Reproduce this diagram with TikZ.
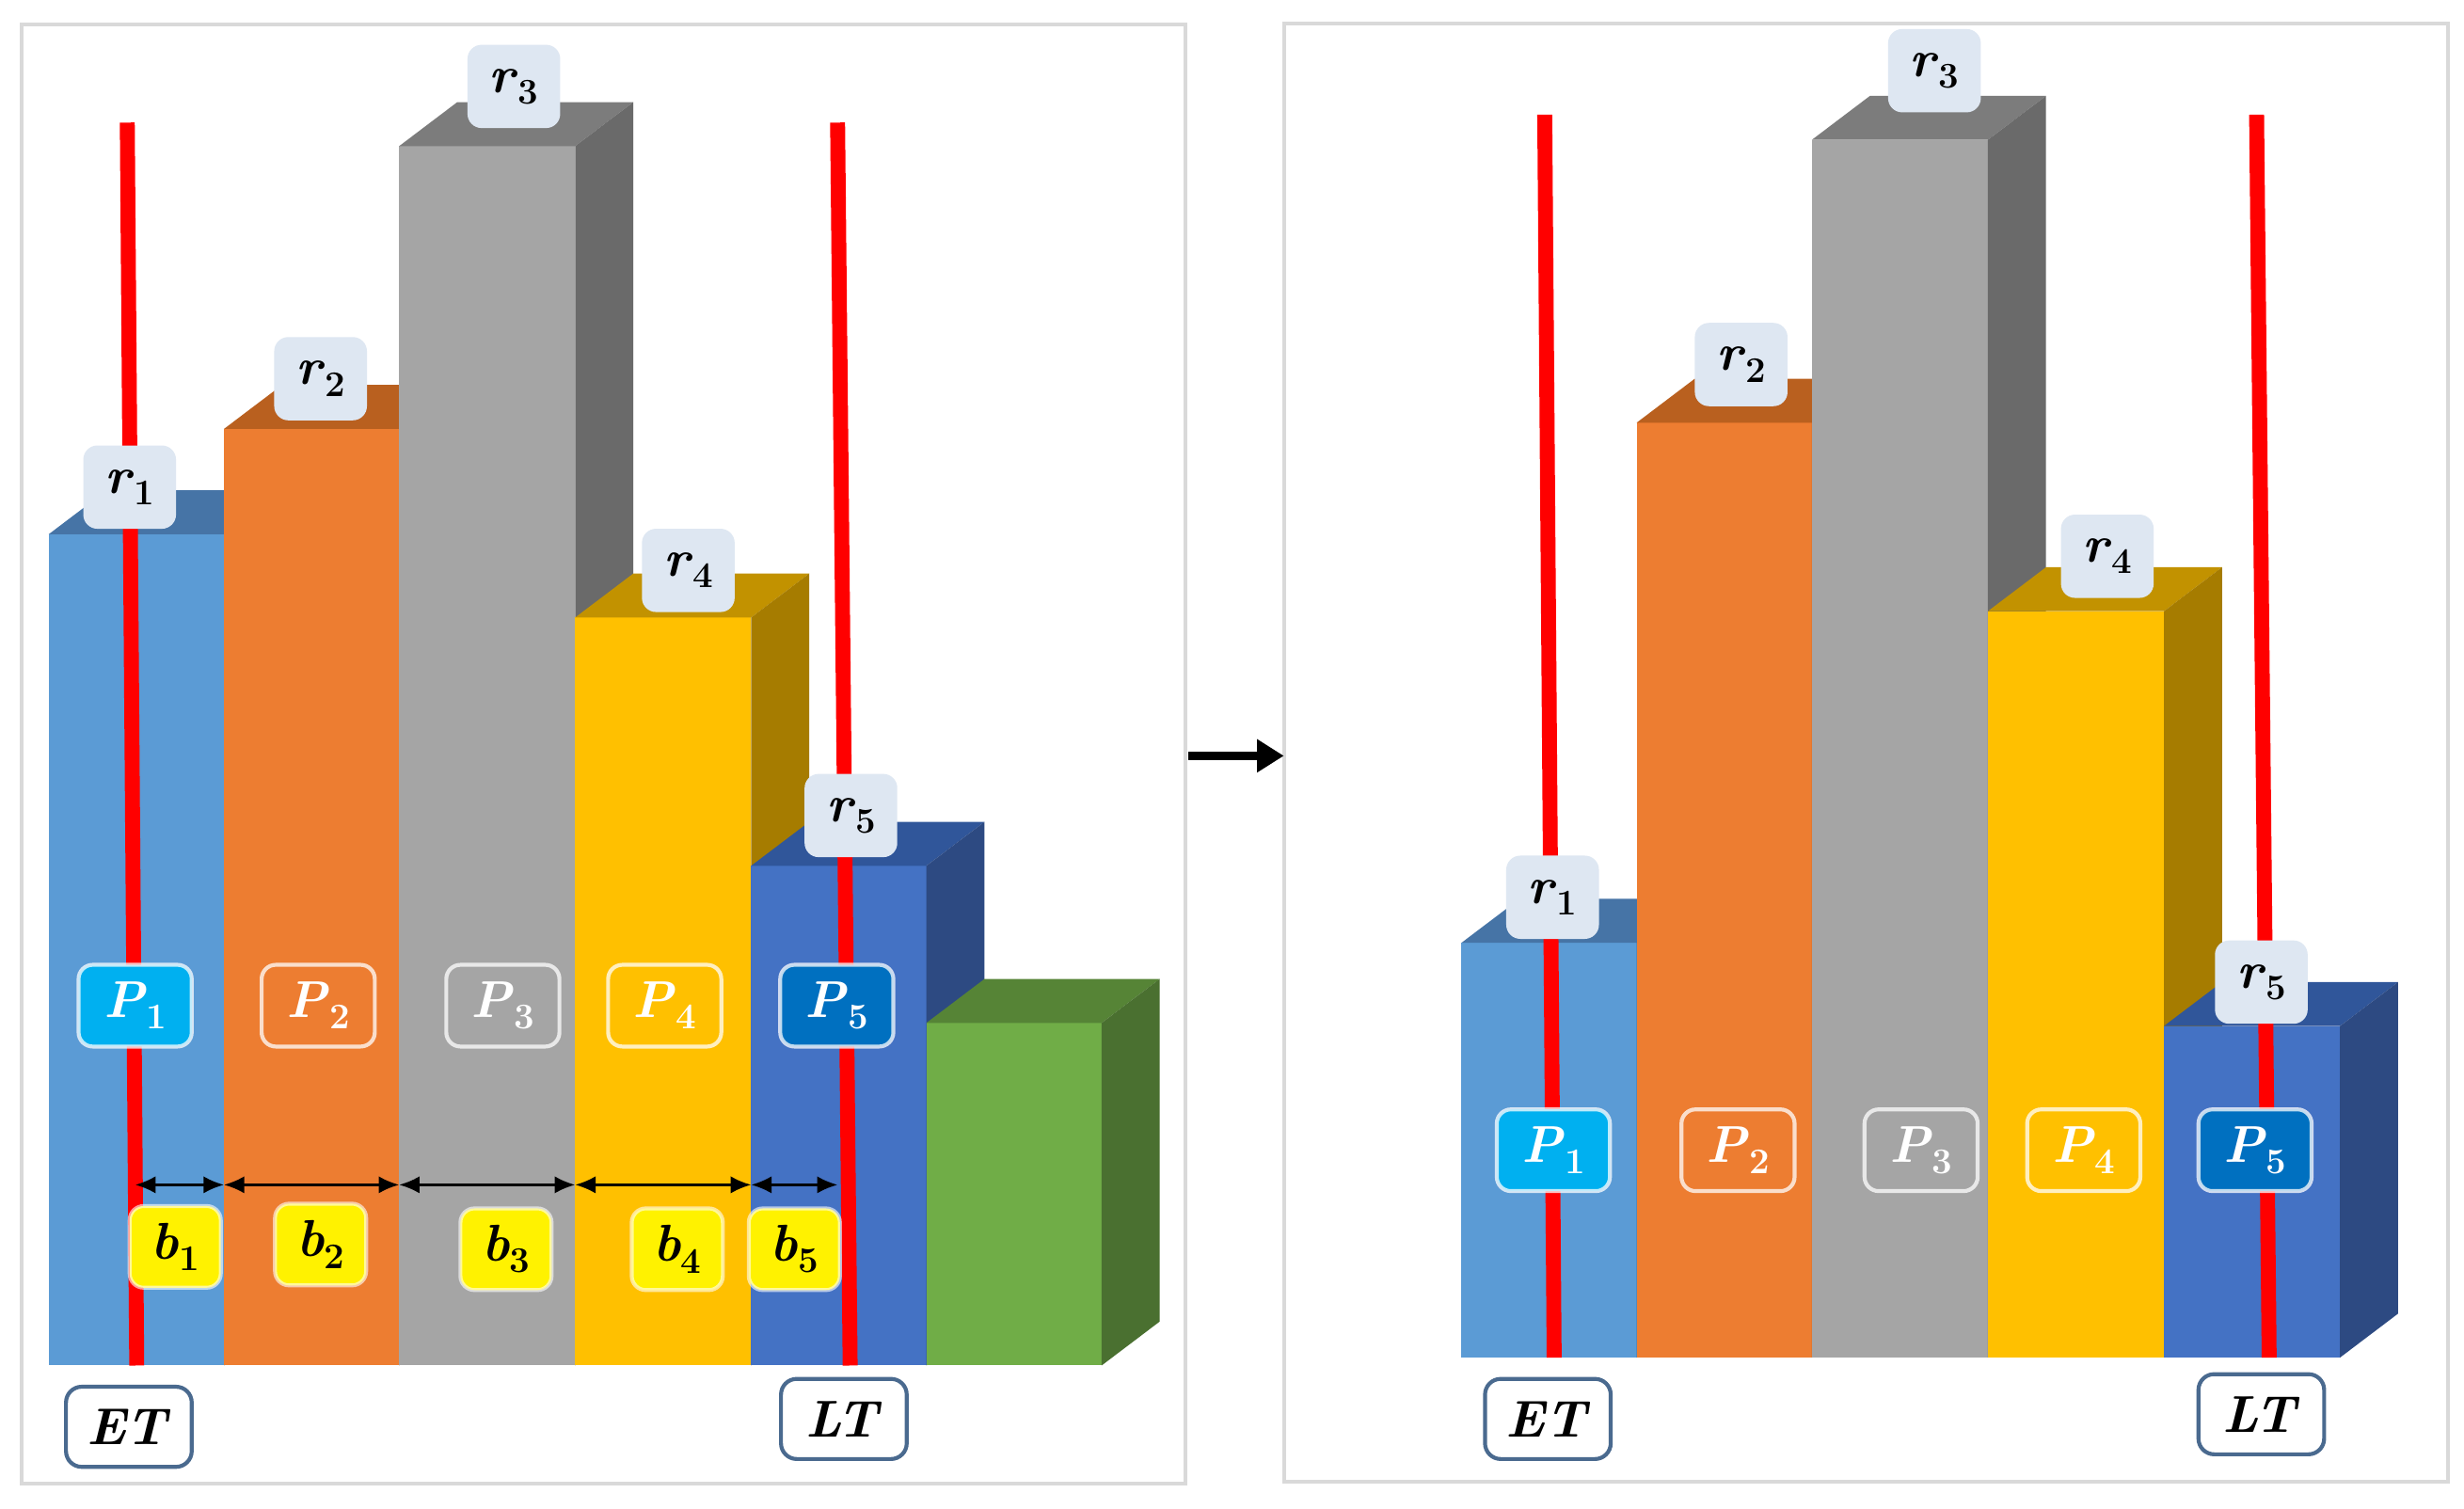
\documentclass[tikz,border=0pt]{standalone}
\usepackage{fontspec}
\usetikzlibrary{arrows.meta}
\definecolor{b1f}{HTML}{5B9BD5}\definecolor{b1t}{HTML}{4674A6}\definecolor{b1s}{HTML}{3F6A98}
\definecolor{b2f}{HTML}{ED7D31}\definecolor{b2t}{HTML}{B9601F}\definecolor{b2s}{HTML}{A5561C}
\definecolor{b3f}{HTML}{A5A5A5}\definecolor{b3t}{HTML}{7C7C7C}\definecolor{b3s}{HTML}{6A6A6A}
\definecolor{b4f}{HTML}{FFC000}\definecolor{b4t}{HTML}{C29200}\definecolor{b4s}{HTML}{A67C00}
\definecolor{b5f}{HTML}{4472C4}\definecolor{b5t}{HTML}{30569A}\definecolor{b5s}{HTML}{2D4A82}
\definecolor{b6f}{HTML}{70AD47}\definecolor{b6t}{HTML}{568436}\definecolor{b6s}{HTML}{4A7030}
\definecolor{rfill}{HTML}{DEE7F2}
\definecolor{pone}{HTML}{00B0F0}
\definecolor{pfive}{HTML}{0070C0}
\definecolor{tborder}{HTML}{4A6A8F}
\definecolor{framegray}{HTML}{D9D9D9}
\newcommand\lblfont{\fontsize{33}{39}\selectfont\bfseries}
\newcommand\lab[2]{\textit{#1}\raisebox{-0.22em}{\fontsize{23}{27}\selectfont\bfseries #2}}
\newcommand\drawbar[7]{%
  \fill[#5] (#1,#2) rectangle ({#1+#4},#3);
  \fill[#6] (#1,#2) -- ({#1+#4},#2) -- ({#1+#4+37},{#2-28}) -- ({#1+37},{#2-28}) -- cycle;
  \fill[#7] ({#1+#4},#2) -- ({#1+#4+37},{#2-28}) -- ({#1+#4+37},{#3-28}) -- ({#1+#4},#3) -- cycle;
}
\tikzset{
  rlab/.style={fill=rfill, rounded corners=9pt, minimum width=59pt, minimum height=53pt, inner sep=0pt, font=\lblfont},
  plab/.style={draw=white, draw opacity=0.75, line width=2.5pt, rounded corners=9pt, minimum width=72pt, minimum height=52pt, inner sep=0pt, text=white, font=\lblfont},
  blab/.style={fill=yellow, draw=white, draw opacity=0.6, line width=2.5pt, rounded corners=9pt, minimum width=58pt, minimum height=52pt, inner sep=0pt, font=\lblfont},
  tlab/.style={fill=white, draw=tborder, line width=2.5pt, rounded corners=10pt, minimum width=80pt, minimum height=51pt, inner sep=0pt, font=\lblfont},
  redline/.style={draw=red, line width=9.5pt},
  dimarrow/.style={line width=1.6pt, {Latex[length=13pt,width=11pt]}-{Latex[length=13pt,width=11pt]}},
  panelframe/.style={draw=framegray, line width=2.5pt},
}
\begin{document}
\begin{tikzpicture}[x=1pt,y=-1pt]
\useasboundingbox (0,0) rectangle (1568,960);
\fill[white] (0,0) rectangle (1568,960);
% frames
\draw[panelframe] (14,15.5) rectangle (754.5,944);
\draw[panelframe] (817,15) rectangle (1558,943);
% ---------- left panel bars ----------
\drawbar{31}{340}{869}{111.5}{b1f}{b1t}{b1s}
\drawbar{142.5}{273}{869}{111.5}{b2f}{b2t}{b2s}
\drawbar{254}{93}{869}{112}{b3f}{b3t}{b3s}
\drawbar{366}{393}{869}{112}{b4f}{b4t}{b4s}
\drawbar{478}{551}{869}{111.5}{b5f}{b5t}{b5s}
\drawbar{589.5}{651}{869}{111.5}{b6f}{b6t}{b6s}
% red lines
\coordinate (LredAtop) at (81,78);
\coordinate (LredAbot) at (87,869);
\coordinate (LredBtop) at (533,78);
\coordinate (LredBbot) at (541,869);
\draw[redline] (LredAtop) -- (LredAbot);
\draw[redline] (LredBtop) -- (LredBbot);
% r labels
\node[rlab] (Lr1) at (82.5,310) {\lab{r}{1}};
\node[rlab] (Lr2) at (204,241) {\lab{r}{2}};
\node[rlab] (Lr3) at (327,55) {\lab{r}{3}};
\node[rlab] (Lr4) at (438,363) {\lab{r}{4}};
\node[rlab] (Lr5) at (541.5,519) {\lab{r}{5}};
% P labels
\node[plab, fill=pone] (LP1) at (86,640) {\lab{P}{1}};
\node[plab] (LP2) at (202.5,640) {\lab{P}{2}};
\node[plab] (LP3) at (320,640) {\lab{P}{3}};
\node[plab] (LP4) at (423,640) {\lab{P}{4}};
\node[plab, fill=pfive] (LP5) at (532.5,640) {\lab{P}{5}};
% dimension arrows
\coordinate (d0) at (86,754);
\coordinate (d1) at (142.5,754);
\coordinate (d2) at (254,754);
\coordinate (d3) at (366,754);
\coordinate (d4) at (478,754);
\coordinate (d5) at (533,754);
\draw[dimarrow] (d0) -- (d1);
\draw[dimarrow] (d1) -- (d2);
\draw[dimarrow] (d2) -- (d3);
\draw[dimarrow] (d3) -- (d4);
\draw[dimarrow] (d4) -- (d5);
% b labels
\node[blab] (b1) at (111.5,793.5) {\lab{b}{1}};
\node[blab] (b2) at (204,792) {\lab{b}{2}};
\node[blab] (b3) at (322,795) {\lab{b}{3}};
\node[blab] (b4) at (431,795) {\lab{b}{4}};
\node[blab] (b5) at (505.5,795) {\lab{b}{5}};
% ET / LT
\node[tlab] (LET) at (82,908) {\textit{ET}};
\node[tlab] (LLT) at (537,903) {\textit{LT}};
% ---------- arrow between panels ----------
\coordinate (arrS) at (756,481);
\coordinate (arrE) at (817,481);
\draw[line width=5pt, -{Triangle[length=17pt,width=20pt]}] (arrS) -- (arrE);
% ---------- right panel bars ----------
\drawbar{930}{600}{864}{111.5}{b1f}{b1t}{b1s}
\drawbar{1041.5}{269}{864}{111.5}{b2f}{b2t}{b2s}
\drawbar{1153}{89}{864}{112}{b3f}{b3t}{b3s}
\drawbar{1265}{389}{864}{112}{b4f}{b4t}{b4s}
\drawbar{1377}{653}{864}{112}{b5f}{b5t}{b5s}
% red lines
\coordinate (RredAtop) at (983,73);
\coordinate (RredAbot) at (989,864);
\coordinate (RredBtop) at (1436,73);
\coordinate (RredBbot) at (1444,864);
\draw[redline] (RredAtop) -- (RredAbot);
\draw[redline] (RredBtop) -- (RredBbot);
% r labels
\node[rlab] (Rr1) at (988,571) {\lab{r}{1}};
\node[rlab] (Rr2) at (1108,232) {\lab{r}{2}};
\node[rlab] (Rr3) at (1231,45) {\lab{r}{3}};
\node[rlab] (Rr4) at (1341,354) {\lab{r}{4}};
\node[rlab] (Rr5) at (1439,625) {\lab{r}{5}};
% P labels
\node[plab, fill=pone] (RP1) at (988.5,732) {\lab{P}{1}};
\node[plab] (RP2) at (1106,732) {\lab{P}{2}};
\node[plab] (RP3) at (1222.5,732) {\lab{P}{3}};
\node[plab] (RP4) at (1326,732) {\lab{P}{4}};
\node[plab, fill=pfive] (RP5) at (1435,732) {\lab{P}{5}};
% ET / LT
\node[tlab] (RET) at (985,903) {\textit{ET}};
\node[tlab] (RLT) at (1439,900) {\textit{LT}};
\end{tikzpicture}
\end{document}
